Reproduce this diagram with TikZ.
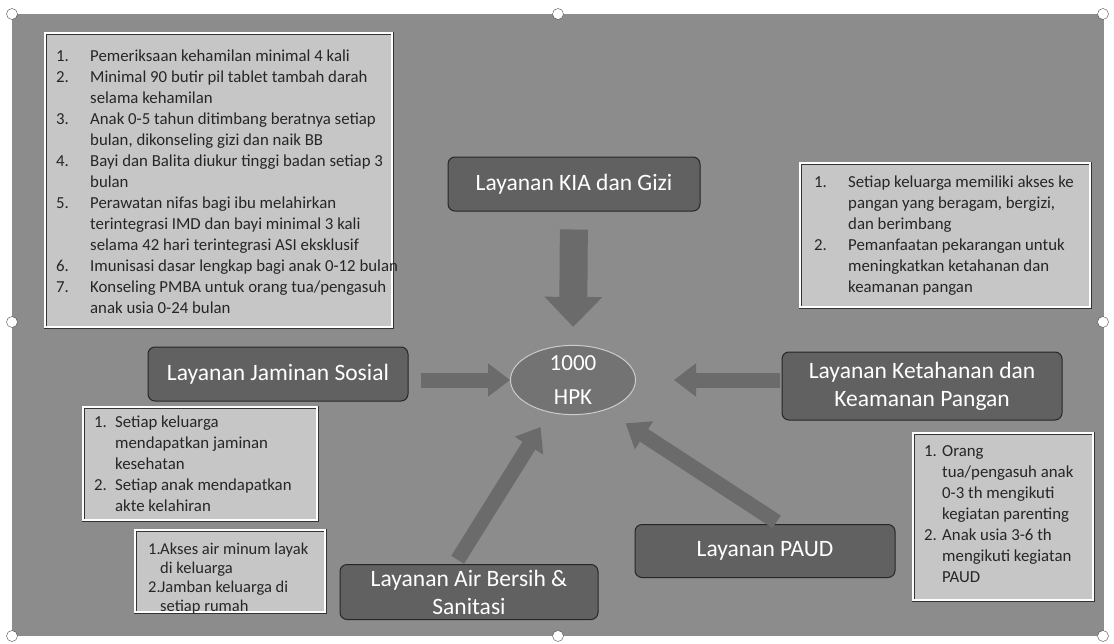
\documentclass[tikz,border=0pt]{standalone}
\usepackage{fontspec}
\setmainfont{Carlito}
\usetikzlibrary{arrows.meta,shapes.geometric}
\begin{document}
\begin{tikzpicture}[x=1pt,y=-1pt,
  listbox/.style={draw=black!80, double=white, double distance=2pt, fill=gray!45, inner sep=0pt, anchor=north west},
  listtext/.style={anchor=north west, inner sep=0pt, text=black!85, font=\fontsize{16.8}{21}\selectfont},
  lay/.style={draw=black!85, line width=1pt, fill=black!62, rounded corners=7pt, text=white, font=\fontsize{23.5}{28}\selectfont, align=center, inner sep=0pt},
  bigarr/.style={draw=black!58, line width=28pt, -{Triangle[length=30pt,width=56pt]}},
  arr/.style={draw=black!58, line width=15pt, -{Triangle[length=22pt,width=32pt]}},
  handle/.style={circle, draw=black!70, fill=white, minimum size=11pt, inner sep=0pt}
]
\useasboundingbox (0,0) rectangle (1114,643);
\fill[white] (0,0) rectangle (1114,643);
\node[fill=black!45, minimum width=1092, minimum height=622, anchor=north west, inner sep=0pt] (bg) at (12,14) {};

% label boxes
\node[lay, minimum width=252, minimum height=54] (kia) at (574,184) {Layanan KIA dan Gizi};
\node[lay, minimum width=260, minimum height=54] (jam) at (278,374) {Layanan Jaminan Sosial};
\node[lay, minimum width=280, minimum height=68] (ket) at (922,386) {Layanan Ketahanan dan\\Keamanan Pangan};
\node[lay, minimum width=258, minimum height=55] (air) at (469,592) {Layanan Air Bersih \&\\Sanitasi};
\node[lay, minimum width=260, minimum height=53] (paud) at (765,551) {Layanan PAUD};

% centre
\node[ellipse, draw=white!80!black, line width=1pt, fill=black!55, minimum width=125, minimum height=56, inner sep=0pt, text=white, font=\fontsize{23}{34}\selectfont, align=center] (hpk) at (573,380) {1000\\HPK};

% arrows
\draw[bigarr, shorten <=18pt, shorten >=18pt] (kia.south) -- (hpk.north);
\draw[arr, shorten <=12pt, shorten >=0pt] (jam.east |- hpk.west) -- (hpk.west);
\draw[arr, shorten <=2pt, shorten >=38pt] (ket.west |- hpk.east) -- (hpk.east);
\draw[arr, shorten <=5pt, shorten >=14pt] ([xshift=-14pt]air.north) -- ([xshift=-25pt]hpk.south);
\draw[arr, shorten <=4pt, shorten >=15pt] ([xshift=15pt]paud.north) -- ([xshift=40pt]hpk.south);

% list boxes
\node[listbox, minimum width=347, minimum height=294] (b1) at (45,33) {};
\node[listtext] (t1) at (56,47) {\begin{tabular}{@{}p{34pt}@{}l@{}}
1. & Pemeriksaan kehamilan minimal 4 kali\\
2. & Minimal 90 butir pil tablet tambah darah\\
   & selama kehamilan\\
3. & Anak 0-5 tahun ditimbang beratnya setiap\\
   & bulan, dikonseling gizi dan naik BB\\
4. & Bayi dan Balita diukur tinggi badan setiap 3\\
   & bulan\\
5. & Perawatan nifas bagi ibu melahirkan\\
   & terintegrasi IMD dan bayi minimal 3 kali\\
   & selama 42 hari terintegrasi ASI eksklusif\\
6. & Imunisasi dasar lengkap bagi anak 0-12 bulan\\
7. & Konseling PMBA untuk orang tua/pengasuh\\
   & anak usia 0-24 bulan
\end{tabular}};

\node[listbox, minimum width=290, minimum height=144] (b2) at (800,163) {};
\node[listtext] (t2) at (814,173) {\begin{tabular}{@{}p{34pt}@{}l@{}}
1. & Setiap keluarga memiliki akses ke\\
   & pangan yang beragam, bergizi,\\
   & dan berimbang\\
2. & Pemanfaatan pekarangan untuk\\
   & meningkatkan ketahanan dan\\
   & keamanan pangan
\end{tabular}};

\node[listbox, minimum width=234, minimum height=113] (b3) at (83,407) {};
\node[listtext] (t3) at (94,413) {\begin{tabular}{@{}p{21pt}@{}l@{}}
1. & Setiap keluarga\\
   & mendapatkan jaminan\\
   & kesehatan\\
2. & Setiap anak mendapatkan\\
   & akte kelahiran
\end{tabular}};

\node[listbox, minimum width=180, minimum height=167] (b4) at (913,433) {};
\node[listtext] (t4) at (924,442) {\begin{tabular}{@{}p{18pt}@{}l@{}}
1. & Orang\\
   & tua/pengasuh anak\\
   & 0-3 th mengikuti\\
   & kegiatan parenting\\
2. & Anak usia 3-6 th\\
   & mengikuti kegiatan\\
   & PAUD
\end{tabular}};

\node[listbox, minimum width=190, minimum height=82] (b5) at (135,530) {};
\node[listtext, font=\fontsize{16.5}{19}\selectfont] (t5) at (148,541) {\begin{tabular}{@{}p{12pt}@{}l@{}}
1. & Akses air minum layak\\
   & di keluarga\\
2. & Jamban keluarga di\\
   & setiap rumah
\end{tabular}};

% selection handles
\node[handle] (h1) at (12,14) {};
\node[handle] (h2) at (558,14) {};
\node[handle] (h3) at (1103,14) {};
\node[handle] (h4) at (12,322) {};
\node[handle] (h5) at (1103,322) {};
\node[handle] (h6) at (12,636) {};
\node[handle] (h7) at (558,636) {};
\node[handle] (h8) at (1103,636) {};
\end{tikzpicture}
\end{document}
